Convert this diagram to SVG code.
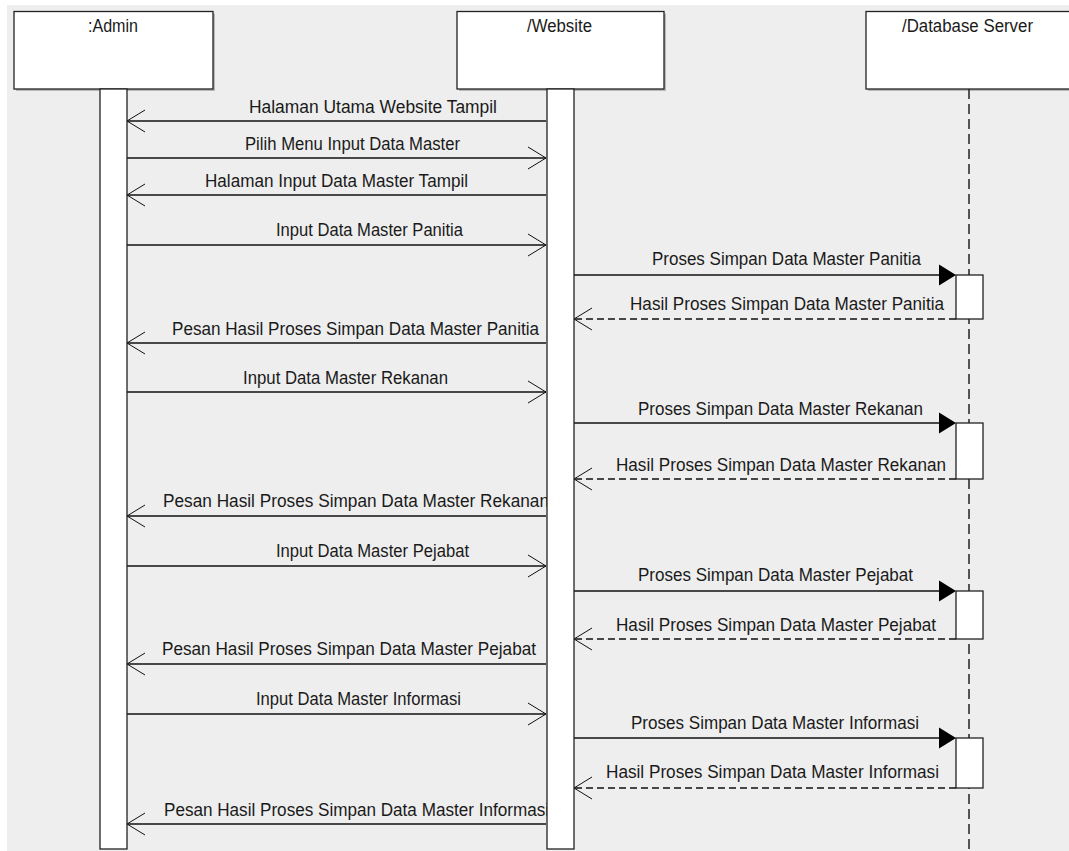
<svg xmlns="http://www.w3.org/2000/svg" width="1069" height="851" viewBox="0 0 1069 851">
<style>
.bg{fill:#eeeeee}
.box{fill:#ffffff;stroke:#222;stroke-width:1.3}
.shadow{fill:#b8b8b8}
.act{fill:#ffffff;stroke:#222;stroke-width:1.3}
.life{stroke:#222;stroke-width:1.5;stroke-dasharray:10,5;fill:none}
.msg{stroke:#111;stroke-width:1.3;fill:none}
.ret{stroke:#111;stroke-width:1.3;fill:none;stroke-dasharray:7,4}
.head{stroke:#111;stroke-width:1;fill:none}
.fill{fill:#000;stroke:none}
text{font-family:"Liberation Sans",Arial,sans-serif;font-size:17.5px;fill:#1a1a1a}
.t{text-anchor:middle}
</style>
<rect x="0" y="0" width="1069" height="851" fill="#ffffff"/>
<rect class="bg" x="7" y="5" width="1062" height="846"/>

<g id="node-admin">
<rect class="shadow" x="16" y="13.5" width="199" height="77.5"/>
<rect class="box" x="14" y="11.5" width="199" height="77.5"/>
<text x="88" y="32" textLength="50" lengthAdjust="spacingAndGlyphs">:Admin</text>
</g>
<g id="node-website">
<rect class="shadow" x="459" y="13.5" width="207" height="77.5"/>
<rect class="box" x="457" y="11.5" width="207" height="77.5"/>
<text x="527" y="32" textLength="65" lengthAdjust="spacingAndGlyphs">/Website</text>
</g>
<g id="node-database">
<rect class="shadow" x="868" y="13.5" width="210" height="77.5"/>
<rect class="box" x="866" y="11.5" width="210" height="77.5"/>
<text x="902" y="32" textLength="131" lengthAdjust="spacingAndGlyphs">/Database Server</text>
<line class="life" x1="969" y1="89" x2="969" y2="851"/>
<rect class="act" x="956" y="275" width="27" height="44"/>
<rect class="act" x="956" y="423" width="27" height="56"/>
<rect class="act" x="956" y="591" width="27" height="48"/>
<rect class="act" x="956" y="738" width="27" height="50"/>
</g>

<g id="connectors">
<line class="msg" x1="546" y1="121" x2="127" y2="121"/>
<path class="head" d="M145 110 L127 121 L145 132"/>
<text x="249" y="113" textLength="248" lengthAdjust="spacingAndGlyphs">Halaman Utama Website Tampil</text>
<line class="msg" x1="127" y1="158" x2="546" y2="158"/>
<path class="head" d="M528 147 L546 158 L528 169"/>
<text x="245" y="150" textLength="215" lengthAdjust="spacingAndGlyphs">Pilih Menu Input Data Master</text>
<line class="msg" x1="546" y1="195" x2="127" y2="195"/>
<path class="head" d="M145 184 L127 195 L145 206"/>
<text x="205" y="187" textLength="263" lengthAdjust="spacingAndGlyphs">Halaman Input Data Master Tampil</text>
<line class="msg" x1="127" y1="245" x2="546" y2="245"/>
<path class="head" d="M528 234 L546 245 L528 256"/>
<text x="276" y="236" textLength="187" lengthAdjust="spacingAndGlyphs">Input Data Master Panitia</text>
<line class="msg" x1="574" y1="275" x2="944" y2="275"/>
<path class="fill" d="M939 264.5 L956 275 L939 285.5 Z"/>
<text x="652" y="265" textLength="269" lengthAdjust="spacingAndGlyphs">Proses Simpan Data Master Panitia</text>
<line class="ret" x1="956" y1="319" x2="574" y2="319"/>
<path class="head" d="M592 308 L574 319 L592 330"/>
<text x="630" y="310" textLength="314" lengthAdjust="spacingAndGlyphs">Hasil Proses Simpan Data Master Panitia</text>
<line class="msg" x1="546" y1="343" x2="127" y2="343"/>
<path class="head" d="M145 332 L127 343 L145 354"/>
<text x="172" y="335" textLength="367" lengthAdjust="spacingAndGlyphs">Pesan Hasil Proses Simpan Data Master Panitia</text>
<line class="msg" x1="127" y1="392" x2="546" y2="392"/>
<path class="head" d="M528 381 L546 392 L528 403"/>
<text x="243" y="384" textLength="205" lengthAdjust="spacingAndGlyphs">Input Data Master Rekanan</text>
<line class="msg" x1="574" y1="423" x2="944" y2="423"/>
<path class="fill" d="M939 412.5 L956 423 L939 433.5 Z"/>
<text x="638" y="415" textLength="285" lengthAdjust="spacingAndGlyphs">Proses Simpan Data Master Rekanan</text>
<line class="ret" x1="956" y1="479" x2="574" y2="479"/>
<path class="head" d="M592 468 L574 479 L592 490"/>
<text x="616" y="471" textLength="330" lengthAdjust="spacingAndGlyphs">Hasil Proses Simpan Data Master Rekanan</text>
<line class="msg" x1="546" y1="516" x2="127" y2="516"/>
<path class="head" d="M145 505 L127 516 L145 527"/>
<text x="163" y="507" textLength="386" lengthAdjust="spacingAndGlyphs">Pesan Hasil Proses Simpan Data Master Rekanan</text>
<line class="msg" x1="127" y1="566" x2="546" y2="566"/>
<path class="head" d="M528 555 L546 566 L528 577"/>
<text x="276" y="557" textLength="193" lengthAdjust="spacingAndGlyphs">Input Data Master Pejabat</text>
<line class="msg" x1="574" y1="591" x2="944" y2="591"/>
<path class="fill" d="M939 580.5 L956 591 L939 601.5 Z"/>
<text x="638" y="581" textLength="275" lengthAdjust="spacingAndGlyphs">Proses Simpan Data Master Pejabat</text>
<line class="ret" x1="956" y1="639" x2="574" y2="639"/>
<path class="head" d="M592 628 L574 639 L592 650"/>
<text x="616" y="631" textLength="320" lengthAdjust="spacingAndGlyphs">Hasil Proses Simpan Data Master Pejabat</text>
<line class="msg" x1="546" y1="664" x2="127" y2="664"/>
<path class="head" d="M145 653 L127 664 L145 675"/>
<text x="162" y="655" textLength="374" lengthAdjust="spacingAndGlyphs">Pesan Hasil Proses Simpan Data Master Pejabat</text>
<line class="msg" x1="127" y1="714" x2="546" y2="714"/>
<path class="head" d="M528 703 L546 714 L528 725"/>
<text x="256" y="705" textLength="205" lengthAdjust="spacingAndGlyphs">Input Data Master Informasi</text>
<line class="msg" x1="574" y1="738" x2="944" y2="738"/>
<path class="fill" d="M939 727.5 L956 738 L939 748.5 Z"/>
<text x="631" y="729" textLength="288" lengthAdjust="spacingAndGlyphs">Proses Simpan Data Master Informasi</text>
<line class="ret" x1="956" y1="788" x2="574" y2="788"/>
<path class="head" d="M592 777 L574 788 L592 799"/>
<text x="606" y="778" textLength="333" lengthAdjust="spacingAndGlyphs">Hasil Proses Simpan Data Master Informasi</text>
<line class="msg" x1="546" y1="824" x2="127" y2="824"/>
<path class="head" d="M145 813 L127 824 L145 835"/>
<text x="164" y="816" textLength="385" lengthAdjust="spacingAndGlyphs">Pesan Hasil Proses Simpan Data Master Informasi</text>
</g>

<g id="lifeline-admin">
<rect class="act" x="100" y="89" width="27" height="760"/>
</g>
<g id="lifeline-website">
<rect class="act" x="547" y="89" width="27" height="760"/>
</g>
</svg>
